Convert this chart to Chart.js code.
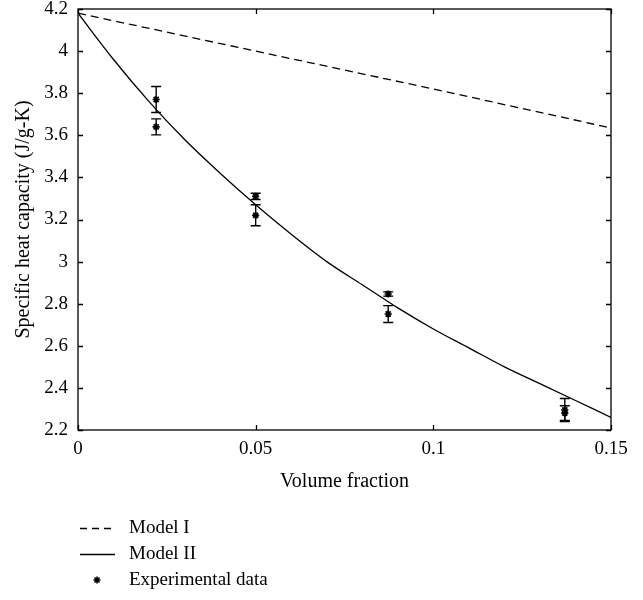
<!DOCTYPE html>
<html>
<head>
<meta charset="utf-8">
<script src="https://cdn.jsdelivr.net/npm/chart.js@4/dist/chart.umd.min.js"></script>
<style>
  html, body { margin: 0; padding: 0; background: #fff; }
  canvas { display: block; }
</style>
</head>
<body>
<canvas id="c" width="643" height="600"></canvas>
<script>
// ---- data ----
const xTicks = [0, 0.05, 0.1, 0.15];
const yTicks = [2.2, 2.4, 2.6, 2.8, 3, 3.2, 3.4, 3.6, 3.8, 4, 4.2];

const model1X = [0, 0.05, 0.1, 0.15];
const model1Y = [4.18, 4.0, 3.82, 3.635];

const model2X = [0, 0.01, 0.02, 0.03, 0.04, 0.05, 0.06, 0.07, 0.08, 0.09, 0.10, 0.11, 0.12, 0.13, 0.14, 0.15];
const model2Y = [4.18, 3.96, 3.76, 3.58, 3.42, 3.27, 3.13, 3.00, 2.89, 2.78, 2.68, 2.59, 2.50, 2.42, 2.34, 2.26];

const expX   = [0.022, 0.022, 0.05, 0.05, 0.0873, 0.0873, 0.137, 0.137];
const expY   = [3.77, 3.64, 3.31, 3.22, 2.846, 2.751, 2.295, 2.28];
const expErr = [0.062, 0.038, 0.015, 0.05, 0.01, 0.04, 0.055, 0.035];

const legendLabels = ['Model I', 'Model II', 'Experimental data'];

const FONT = '"Liberation Serif", "Times New Roman", serif';
const FS = 19;
const FS_TITLE = 20;

function pts(xs, ys) { return xs.map((x, i) => ({ x: x, y: ys[i] })); }

function drawStar(ctx, x, y, r) {
  ctx.beginPath();
  ctx.moveTo(x - r, y); ctx.lineTo(x + r, y);
  ctx.moveTo(x, y - r); ctx.lineTo(x, y + r);
  const d = r * 0.72;
  ctx.moveTo(x - d, y - d); ctx.lineTo(x + d, y + d);
  ctx.moveTo(x - d, y + d); ctx.lineTo(x + d, y - d);
  ctx.stroke();
}

const framePlugin = {
  id: 'frame',
  afterDatasetsDraw(chart) {
    const ctx = chart.ctx, a = chart.chartArea;
    const xs = chart.scales.x, ys = chart.scales.y;
    ctx.save();
    // error bars
    ctx.strokeStyle = '#000';
    ctx.lineWidth = 1.4;
    expX.forEach((xv, i) => {
      const px = xs.getPixelForValue(xv);
      const top = ys.getPixelForValue(expY[i] + expErr[i]);
      const bot = ys.getPixelForValue(expY[i] - expErr[i]);
      ctx.beginPath();
      ctx.moveTo(px, top); ctx.lineTo(px, bot);
      ctx.moveTo(px - 5, top); ctx.lineTo(px + 5, top);
      ctx.moveTo(px - 5, bot); ctx.lineTo(px + 5, bot);
      ctx.stroke();
    });
    // frame
    ctx.lineWidth = 1.3;
    ctx.strokeRect(a.left, a.top, a.right - a.left, a.bottom - a.top);
    // inward ticks
    const tl = 5;
    ctx.beginPath();
    xTicks.forEach(v => {
      const px = Math.round(xs.getPixelForValue(v)) + 0.5;
      ctx.moveTo(px, a.bottom); ctx.lineTo(px, a.bottom - tl);
      ctx.moveTo(px, a.top); ctx.lineTo(px, a.top + tl);
    });
    yTicks.forEach(v => {
      const py = Math.round(ys.getPixelForValue(v)) + 0.5;
      ctx.moveTo(a.left, py); ctx.lineTo(a.left + tl, py);
      ctx.moveTo(a.right, py); ctx.lineTo(a.right - tl, py);
    });
    ctx.stroke();

    // legend
    const lx0 = 80, lx1 = 115, tx = 129;
    const rows = [528, 554, 580];
    ctx.font = FS + 'px ' + FONT;
    ctx.fillStyle = '#000';
    ctx.textBaseline = 'middle';
    ctx.textAlign = 'left';
    ctx.lineWidth = 1.3;
    ctx.setLineDash([7, 5]);
    ctx.beginPath(); ctx.moveTo(lx0, rows[0] + 0.5); ctx.lineTo(lx1, rows[0] + 0.5); ctx.stroke();
    ctx.setLineDash([]);
    ctx.beginPath(); ctx.moveTo(lx0, rows[1] + 0.5); ctx.lineTo(lx1, rows[1] + 0.5); ctx.stroke();
    ctx.lineWidth = 1.6;
    drawStar(ctx, 97, rows[2], 3.5);
    legendLabels.forEach((t, i) => ctx.fillText(t, tx, rows[i]));
    ctx.restore();
  }
};

const fmt = v => String(+(+v).toFixed(3));

new Chart(document.getElementById('c'), {
  type: 'scatter',
  data: {
    datasets: [
      {
        label: legendLabels[0],
        data: pts(model1X, model1Y),
        showLine: true,
        borderColor: '#000',
        borderWidth: 1.3,
        borderDash: [8, 5],
        pointRadius: 0,
        fill: false
      },
      {
        label: legendLabels[1],
        data: pts(model2X, model2Y),
        showLine: true,
        borderColor: '#000',
        borderWidth: 1.3,
        cubicInterpolationMode: 'monotone',
        pointRadius: 0,
        fill: false
      },
      {
        label: legendLabels[2],
        data: pts(expX, expY),
        showLine: false,
        pointStyle: 'star',
        pointRadius: 3.6,
        borderColor: '#000',
        backgroundColor: '#000',
        borderWidth: 1.7
      }
    ]
  },
  options: {
    responsive: false,
    animation: false,
    events: [],
    layout: { padding: { top: 9, right: 32, left: 0, bottom: 106 } },
    plugins: { legend: { display: false }, tooltip: { enabled: false } },
    scales: {
      x: {
        type: 'linear',
        min: 0, max: 0.15,
        afterBuildTicks: s => { s.ticks = xTicks.map(v => ({ value: v })); },
        afterFit: s => { s.height = 64; s.paddingLeft = 0; s.paddingRight = 0; },
        grid: { display: true, drawOnChartArea: false, drawTicks: false },
        border: { display: false },
        ticks: {
          padding: 8,
          color: '#000',
          font: { family: FONT, size: FS },
          maxRotation: 0,
          autoSkip: false,
          callback: fmt
        },
        title: {
          display: true,
          text: 'Volume fraction',
          color: '#000',
          font: { family: FONT, size: FS_TITLE },
          padding: { top: 0, bottom: 0 }
        }
      },
      y: {
        type: 'linear',
        min: 2.2, max: 4.2,
        afterBuildTicks: s => { s.ticks = yTicks.map(v => ({ value: v })); },
        afterFit: s => { s.width = 78; s.paddingTop = 0; s.paddingBottom = 0; },
        grid: { display: true, drawOnChartArea: false, drawTicks: false },
        border: { display: false },
        ticks: {
          padding: 10,
          color: '#000',
          font: { family: FONT, size: FS },
          autoSkip: false,
          callback: fmt
        },
        title: {
          display: true,
          text: 'Specific heat capacity (J/g-K)',
          color: '#000',
          font: { family: FONT, size: FS_TITLE },
          padding: { top: 12, bottom: 0 }
        }
      }
    }
  },
  plugins: [framePlugin]
});
</script>
</body>
</html>
